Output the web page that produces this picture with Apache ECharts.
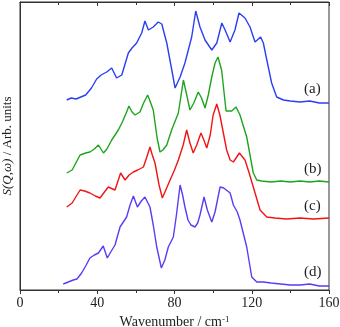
<!DOCTYPE html>
<html>
<head>
<meta charset="utf-8">
<script src="https://cdn.jsdelivr.net/npm/echarts@6/dist/echarts.min.js"></script>
<style>
  html, body { margin: 0; padding: 0; background: #fff; }
  #chart { width: 340px; height: 327px; }
</style>
</head>
<body>
<div id="chart"></div>
<script>
// wavenumber (cm-1) and intensity (arbitrary, offset per curve)
const xA = [24.2,26.5,29,31.5,34,37,39.7,42,44.9,47.5,50,52.7,56.1,58,60.4,63,64.7,66.5,69,71.6,73.4,76,78.6,80.3,82.9,85.4,88.9,91,93.2,95.8,99.3,101.9,104.5,106.2,108.8,111.3,113.4,116.5,119.1,121.7,124.6,126,127.8,130.3,132.9,136.4,140,145,150,155,160];
const yA = [190,192,191,193,195,202,211,215,218,222,212,215,237,242,247,257,269,260,263,268,266,247,220,202,213,227,253,279,263,250,240,247,267,260,248,260,277,272,263,248,253,247,230,207,193,190,189,188,189,187,187];

const xB = [24.2,27,31.1,34,36.2,38.5,40.6,43.2,45,47.5,50.9,53,55.2,56.4,58,59.6,62.1,64,66.1,67.5,69,71,72.5,74,76,78.5,82,84.6,86,88,90,92.3,94,95.8,97.5,99.3,101,102.5,104.4,106.7,109.6,111.9,113.9,117.4,120.8,122.6,125,130,135,140,145,150,155,160];
const yB = [117,120,135,137,138,141,145,137,141,150,160,168,178,184,178,175,178,187,195,188,180,152,138,140,145,160,177,210,198,180,187,198,192,182,195,213,227,233,220,179,179,183,175,153,117,110,109,108,109,108,109,108,109,108];

const xC = [24.2,27,31.1,33.5,36.2,39,41.4,45.7,49.2,52.1,54.4,56.5,58.7,61,63.9,65.5,67.3,68.5,69.9,72,73.7,75.5,77.7,80,82,84.5,86.3,88,89.7,91.5,93.7,95.2,96.7,98.5,100,101.9,103.5,105.3,107,108.8,110.5,113.6,116.5,118.5,120.8,124.3,127.8,132,138,145,152,160];
const yC = [83,87,100,99,97,94,92,103,100,117,110,115,118,120,123,132,143,135,127,105,92,100,110,120,130,145,160,147,137,145,157,150,142,155,175,186,175,157,140,130,128,137,130,118,103,80,73,72,71,72,71,72];

const xD = [22.4,25,27.6,29.5,31.9,34,36.2,38.5,40.6,43.1,45.2,47,49.2,51.8,55.2,57,58.7,60.8,62.8,64.7,67.3,69,70.8,73.2,75,76.8,79.4,81,82.9,84.2,85.4,87,88.5,90.6,92,93.2,95.3,97,99.3,101,103.6,105.5,108.8,110.5,112.5,113.9,117.4,120,122.6,126,130,135,140,145,150,155,160];
const yD = [6,8,10,11,17,24,32,35,37,44,32,38,45,63,73,85,94,83,89,93,83,65,43,22,30,43,53,75,105,95,83,70,65,63,67,75,93,80,68,78,103,102,97,85,78,70,43,13,8,8,7,6,5,5,6,4,4];

const curveLabels = ['(a)', '(b)', '(c)', '(d)'];
const colors = ['#2b3ff2', '#1ea51e', '#f01414', '#5a3cf5'];

const font = 'Liberation Serif, Times New Roman, serif';

function pairs(xs, ys) {
    return xs.map((x, i) => [x, ys[i]]);
}

const chart = echarts.init(document.getElementById('chart'));

const option = {
    animation: false,
    grid: { left: 20, right: 11, top: 2, bottom: 37, outerBoundsMode: 'none', show: true, borderColor: '#333', borderWidth: 1 },
    xAxis: [
        {
            type: 'value', min: 0, max: 160, interval: 40,
            name: 'Wavenumber / cm{sup|-1}',
            nameLocation: 'middle', nameGap: 22,
            nameTextStyle: { fontFamily: font, fontSize: 14, color: '#222', rich: { sup: { fontFamily: font, fontSize: 9, verticalAlign: 'top', padding: [0, 0, 6, 0] } } },
            axisLine: { lineStyle: { color: '#333' } },
            axisTick: { show: true, inside: false, length: 4, lineStyle: { color: '#333' } },
            minorTick: { show: true, splitNumber: 2, length: 3, lineStyle: { color: '#333' } },
            axisLabel: { fontFamily: font, fontSize: 14, color: '#222', margin: 6 },
            splitLine: { show: false }
        },
        {
            type: 'value', min: 0, max: 160, interval: 40, position: 'top',
            axisLine: { lineStyle: { color: '#333' } },
            axisTick: { show: true, inside: true, length: 4, lineStyle: { color: '#333' } },
            minorTick: { show: true, splitNumber: 2, length: 3, lineStyle: { color: '#333' } },
            axisLabel: { show: false },
            splitLine: { show: false }
        }
    ],
    yAxis: {
        type: 'value', min: 0, max: 288,
        name: '{i|S(Q,ω)} / Arb. units',
        nameLocation: 'middle', nameGap: 6, nameRotate: 90,
        nameTextStyle: { fontFamily: font, fontSize: 13, color: '#222', rich: { i: { fontFamily: font, fontSize: 13, fontStyle: 'italic', color: '#222' } } },
        axisLine: { show: true, lineStyle: { color: '#333' } },
        axisTick: { show: false },
        axisLabel: { show: false },
        splitLine: { show: false }
    },
    series: [pairs(xA, yA), pairs(xB, yB), pairs(xC, yC), pairs(xD, yD)].map((d, i) => ({
        type: 'line',
        data: d,
        showSymbol: false,
        lineStyle: { color: colors[i], width: 1.4 },
        z: 4 - i
    })),
    graphic: curveLabels.map((t, i) => ({
        type: 'text',
        left: 304,
        top: [82, 162, 199, 265][i],
        style: { text: t, font: '15px ' + font, fill: '#222' }
    }))
};

chart.setOption(option);
</script>
</body>
</html>
